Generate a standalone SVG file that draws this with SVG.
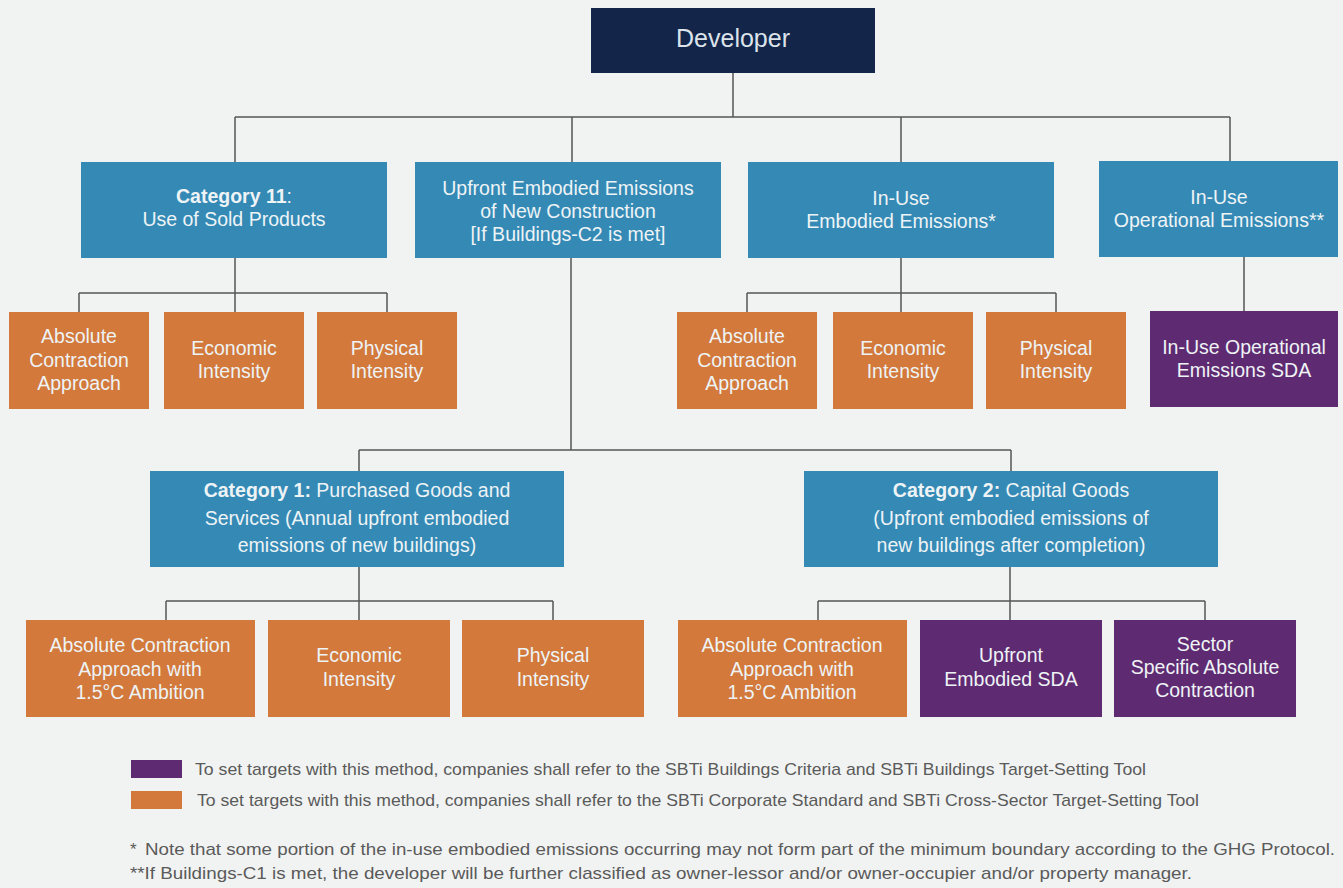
<svg xmlns="http://www.w3.org/2000/svg" width="1343" height="888" viewBox="0 0 1343 888">
<style>
.bg{fill:#f1f3f2}
.navy{fill:#13264a}
.blue{fill:#348ab5}
.orange{fill:#d2793b}
.purple{fill:#5e2a71}
.t{font-family:"Liberation Sans",Arial,sans-serif;font-size:19.5px;fill:#eef3f6;text-anchor:middle}
.dev{font-family:"Liberation Sans",Arial,sans-serif;font-size:25px;fill:#dde3ea;text-anchor:middle}
.b{font-weight:bold}
.note{font-family:"Liberation Sans",Arial,sans-serif;font-size:17px;fill:#5a5a5a}
.conn path{fill:none;stroke:#555;stroke-width:1.5}
</style>
<rect class="bg" x="0" y="0" width="1343" height="888"/>

<g class="conn" id="connectors">
<path d="M733,73V117M235,117H1230M235,117V162M572,117V162M901,117V162M1230,117V161"/>
<path d="M235,258V293M79,293H387M79,293V312M235,293V312M387,293V312"/>
<path d="M901,258V293M747,293H1056M747,293V312M901,293V312M1056,293V312"/>
<path d="M1244,257V311"/>
<path d="M571,258V450M359,450H1011M359,450V471M1011,450V471"/>
<path d="M359,567V601M166,601H553M166,601V620M359,601V620M553,601V620"/>
<path d="M1010,567V601M818,601H1205M818,601V620M1010,601V620M1205,601V620"/>
</g>

<g id="developer">
<rect class="navy" x="591" y="8" width="284" height="65"/>
<text class="dev" x="733" y="47">Developer</text>
</g>

<g id="cat11">
<rect class="blue" x="81" y="162" width="306" height="96"/>
<text class="t" x="234" y="203"><tspan class="b">Category 11</tspan>:</text>
<text class="t" x="234" y="226">Use of Sold Products</text>
</g>

<g id="upfront">
<rect class="blue" x="415" y="162" width="306" height="96"/>
<text class="t" x="568" y="195">Upfront Embodied Emissions</text>
<text class="t" x="568" y="218">of New Construction</text>
<text class="t" x="568" y="241">[If Buildings-C2 is met]</text>
</g>

<g id="inuse-embodied">
<rect class="blue" x="748" y="162" width="306" height="96"/>
<text class="t" x="901" y="205">In-Use</text>
<text class="t" x="901" y="228">Embodied Emissions*</text>
</g>

<g id="inuse-operational">
<rect class="blue" x="1099" y="161" width="239" height="96"/>
<text class="t" x="1219" y="204">In-Use</text>
<text class="t" x="1219" y="227">Operational Emissions**</text>
</g>

<g id="c11-abs">
<rect class="orange" x="9" y="312" width="140" height="97"/>
<text class="t" x="79" y="343">Absolute</text>
<text class="t" x="79" y="367">Contraction</text>
<text class="t" x="79" y="390">Approach</text>
</g>
<g id="c11-econ">
<rect class="orange" x="164" y="312" width="140" height="97"/>
<text class="t" x="234" y="355">Economic</text>
<text class="t" x="234" y="378">Intensity</text>
</g>
<g id="c11-phys">
<rect class="orange" x="317" y="312" width="140" height="97"/>
<text class="t" x="387" y="355">Physical</text>
<text class="t" x="387" y="378">Intensity</text>
</g>

<g id="emb-abs">
<rect class="orange" x="677" y="312" width="140" height="97"/>
<text class="t" x="747" y="343">Absolute</text>
<text class="t" x="747" y="367">Contraction</text>
<text class="t" x="747" y="390">Approach</text>
</g>
<g id="emb-econ">
<rect class="orange" x="833" y="312" width="140" height="97"/>
<text class="t" x="903" y="355">Economic</text>
<text class="t" x="903" y="378">Intensity</text>
</g>
<g id="emb-phys">
<rect class="orange" x="986" y="312" width="140" height="97"/>
<text class="t" x="1056" y="355">Physical</text>
<text class="t" x="1056" y="378">Intensity</text>
</g>

<g id="op-sda">
<rect class="purple" x="1150" y="311" width="188" height="96"/>
<text class="t" x="1244" y="354">In-Use Operational</text>
<text class="t" x="1244" y="377">Emissions SDA</text>
</g>

<g id="cat1">
<rect class="blue" x="150" y="471" width="414" height="96"/>
<text class="t" x="357" y="497"><tspan class="b">Category 1:</tspan> Purchased Goods and</text>
<text class="t" x="357" y="525">Services (Annual upfront embodied</text>
<text class="t" x="357" y="552">emissions of new buildings)</text>
</g>

<g id="cat2">
<rect class="blue" x="804" y="471" width="414" height="96"/>
<text class="t" x="1011" y="497"><tspan class="b">Category 2:</tspan> Capital Goods</text>
<text class="t" x="1011" y="525">(Upfront embodied emissions of</text>
<text class="t" x="1011" y="552">new buildings after completion)</text>
</g>

<g id="c1-abs">
<rect class="orange" x="26" y="620" width="229" height="97"/>
<text class="t" x="140" y="652">Absolute Contraction</text>
<text class="t" x="140" y="676">Approach with</text>
<text class="t" x="140" y="699">1.5°C Ambition</text>
</g>
<g id="c1-econ">
<rect class="orange" x="268" y="620" width="182" height="97"/>
<text class="t" x="359" y="662">Economic</text>
<text class="t" x="359" y="686">Intensity</text>
</g>
<g id="c1-phys">
<rect class="orange" x="462" y="620" width="182" height="97"/>
<text class="t" x="553" y="662">Physical</text>
<text class="t" x="553" y="686">Intensity</text>
</g>

<g id="c2-abs">
<rect class="orange" x="678" y="620" width="229" height="97"/>
<text class="t" x="792" y="652">Absolute Contraction</text>
<text class="t" x="792" y="676">Approach with</text>
<text class="t" x="792" y="699">1.5°C Ambition</text>
</g>
<g id="c2-sda">
<rect class="purple" x="920" y="620" width="182" height="97"/>
<text class="t" x="1011" y="662">Upfront</text>
<text class="t" x="1011" y="686">Embodied SDA</text>
</g>
<g id="c2-sector">
<rect class="purple" x="1114" y="620" width="182" height="97"/>
<text class="t" x="1205" y="651">Sector</text>
<text class="t" x="1205" y="674">Specific Absolute</text>
<text class="t" x="1205" y="697">Contraction</text>
</g>

<g id="legend">
<rect class="purple" x="131" y="760" width="51" height="18"/>
<text class="note" x="195" y="775" textLength="951" lengthAdjust="spacingAndGlyphs">To set targets with this method, companies shall refer to the SBTi Buildings Criteria and SBTi Buildings Target-Setting Tool</text>
<rect class="orange" x="131" y="791" width="51" height="18"/>
<text class="note" x="197" y="806" textLength="1002" lengthAdjust="spacingAndGlyphs">To set targets with this method, companies shall refer to the SBTi Corporate Standard and SBTi Cross-Sector Target-Setting Tool</text>
</g>

<g id="footnotes">
<text class="note" x="130" y="855">*</text>
<text class="note" x="145" y="855" textLength="1190" lengthAdjust="spacingAndGlyphs">Note that some portion of the in-use embodied emissions occurring may not form part of the minimum boundary according to the GHG Protocol.</text>
<text class="note" x="130" y="879" textLength="1062" lengthAdjust="spacingAndGlyphs">**If Buildings-C1 is met, the developer will be further classified as owner-lessor and/or owner-occupier and/or property manager.</text>
</g>
</svg>
